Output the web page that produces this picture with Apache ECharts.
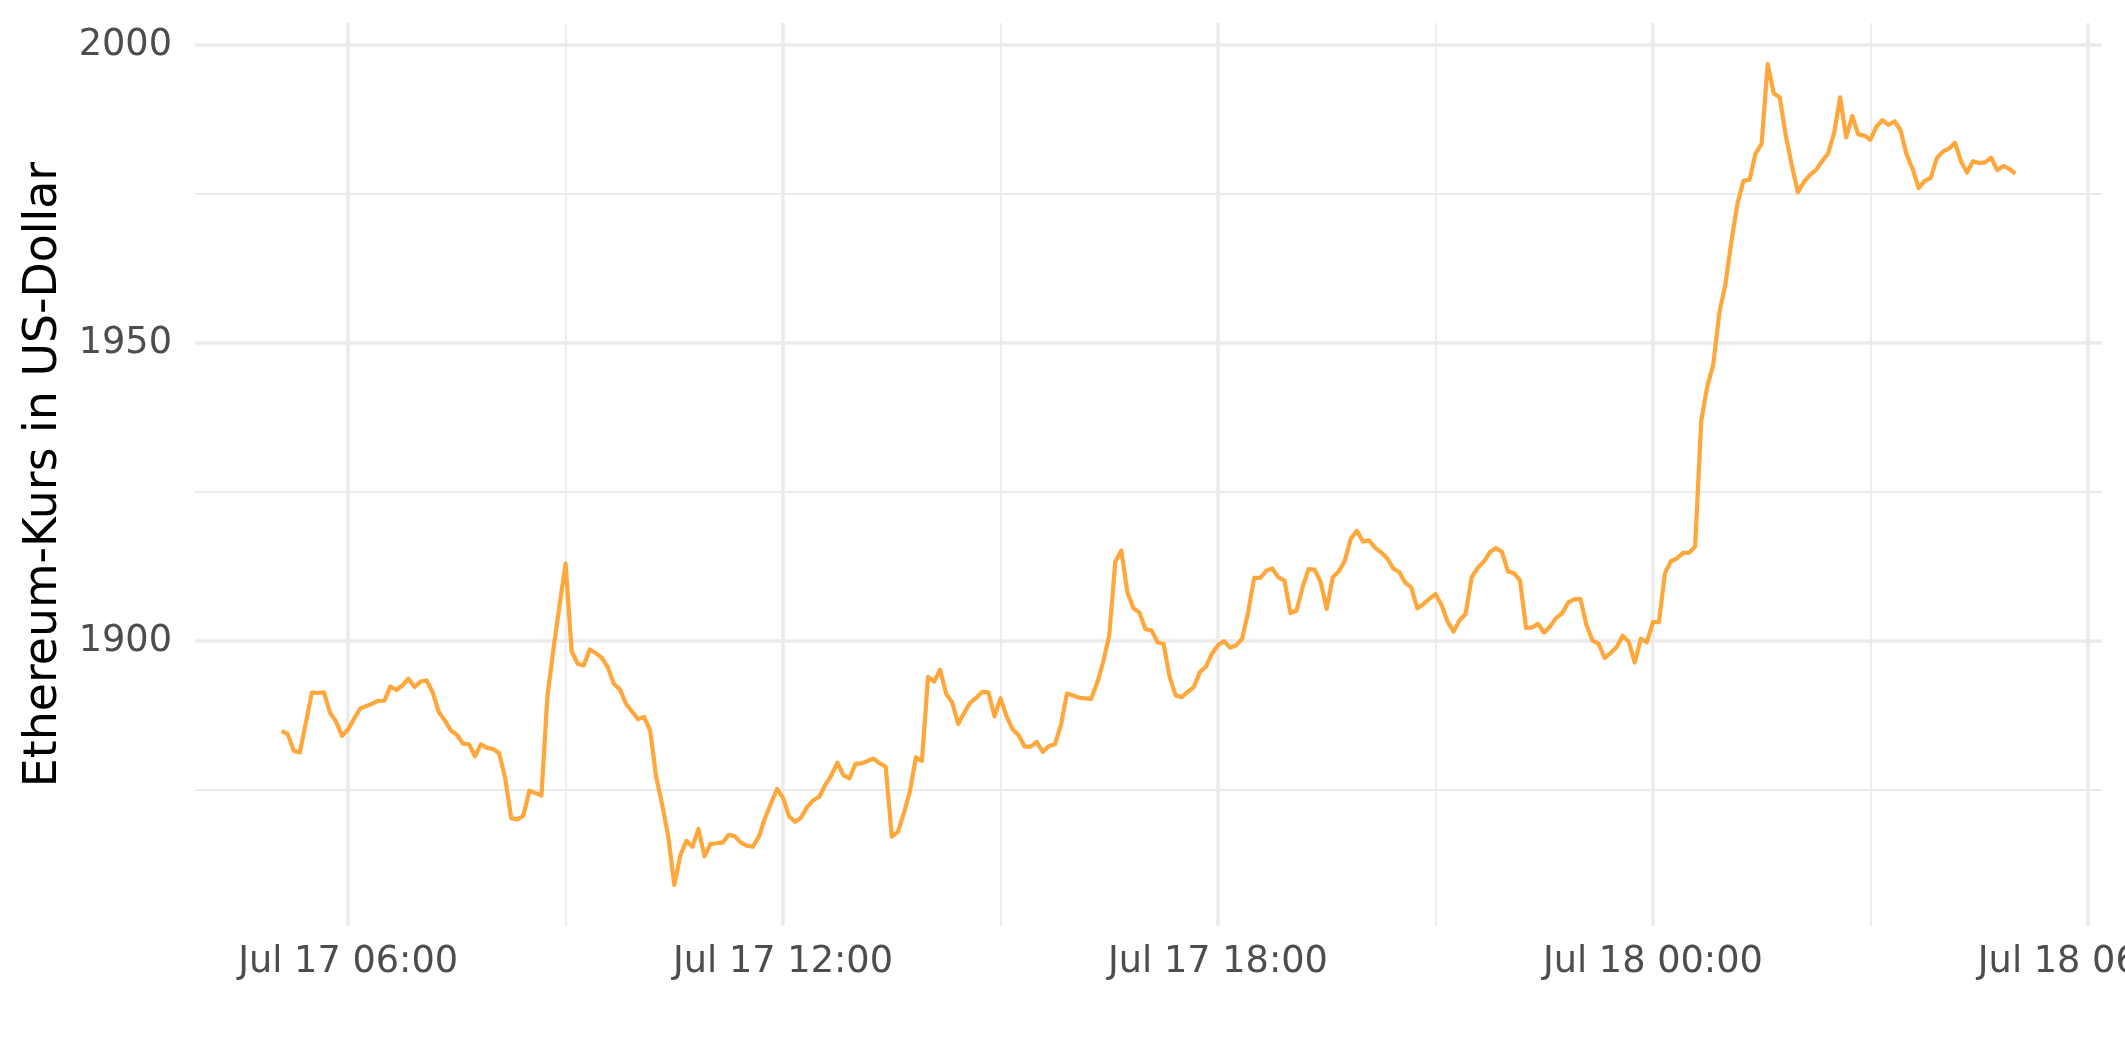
<!DOCTYPE html>
<html>
<head>
<meta charset="utf-8">
<script src="https://cdn.jsdelivr.net/npm/echarts@6/dist/echarts.min.js"></script>
<style>
html,body{margin:0;padding:0;background:#fff;}
#chart{width:2125px;height:1062px;}
</style>
</head>
<body>
<div id="chart"></div>
<script>
// Ethereum price (USD), 5-minute samples, Jul 17 05:05 -> Jul 18 05:00
const prices = [
1884.9,1884.4,1881.6,1881.3,1886.3,1891.4,1891.3,1891.4,1888.0,1886.5,1884.1,1885.2,
1887.0,1888.7,1889.1,1889.5,1890.0,1890.0,1892.4,1891.8,1892.6,1893.7,1892.3,1893.2,
1893.4,1891.4,1888.1,1886.7,1885.0,1884.3,1882.8,1882.7,1880.7,1882.7,1882.1,1881.9,
1881.2,1877.0,1870.3,1870.1,1870.7,1874.9,1874.5,1874.1,1890.9,1898.7,1906.0,1913.0,
1898.3,1896.2,1895.9,1898.6,1898.0,1897.2,1895.6,1892.8,1891.9,1889.5,1888.2,1886.9,
1887.3,1885.0,1877.2,1872.5,1867.2,1859.1,1864.1,1866.5,1865.5,1868.5,1863.9,1866.0,
1866.1,1866.2,1867.5,1867.3,1866.2,1865.7,1865.5,1867.2,1870.3,1872.8,1875.2,1873.7,
1870.6,1869.7,1870.4,1872.2,1873.3,1873.9,1875.9,1877.5,1879.6,1877.5,1877.0,1879.4,
1879.5,1879.9,1880.3,1879.5,1878.9,1867.2,1868.0,1871.1,1874.8,1880.5,1879.9,1894.0,
1893.2,1895.2,1891.2,1889.7,1886.1,1888.0,1889.7,1890.5,1891.5,1891.4,1887.4,1890.4,
1887.4,1885.2,1884.2,1882.3,1882.3,1883.1,1881.4,1882.4,1882.7,1885.9,1891.2,1890.9,
1890.5,1890.4,1890.3,1893.0,1896.5,1901.0,1913.3,1915.2,1908.2,1905.5,1904.8,1902.0,
1901.8,1899.8,1899.5,1894.0,1890.9,1890.6,1891.5,1892.3,1894.8,1895.7,1897.9,1899.3,
1900.0,1898.9,1899.3,1900.4,1904.9,1910.6,1910.6,1911.8,1912.2,1910.7,1910.2,1904.7,
1905.1,1909.0,1912.1,1912.0,1909.9,1905.4,1910.7,1911.7,1913.5,1917.2,1918.5,1916.7,
1916.9,1915.7,1914.9,1913.9,1912.2,1911.6,1909.8,1909.0,1905.5,1906.2,1907.1,1907.9,
1906.1,1903.3,1901.6,1903.5,1904.6,1910.7,1912.3,1913.3,1914.9,1915.6,1915.0,1911.7,
1911.4,1910.2,1902.2,1902.3,1902.9,1901.4,1902.5,1903.9,1904.7,1906.5,1907.0,1907.1,
1902.7,1900.1,1899.6,1897.2,1898.0,1899.0,1900.9,1899.9,1896.4,1900.4,1899.8,1903.2,
1903.2,1911.4,1913.4,1913.9,1914.8,1914.8,1915.9,1936.9,1942.7,1946.4,1955.1,1959.8,
1967.1,1973.4,1977.2,1977.4,1981.8,1983.4,1996.8,1991.9,1991.2,1984.8,1979.8,1975.3,
1977.0,1978.2,1979.0,1980.5,1981.8,1985.2,1991.2,1984.5,1988.1,1985.0,1984.8,1984.1,
1986.3,1987.4,1986.6,1987.2,1985.7,1981.6,1979.2,1976.0,1977.2,1977.7,1981.0,1982.1,
1982.6,1983.6,1980.5,1978.6,1980.5,1980.2,1980.3,1981.1,1979.0,1979.7,1979.2,1978.4
];
// time axis in hours since Jul 17 00:00
const startHour = 5 + 5 / 60;   // Jul 17 05:05
const stepHour = 5 / 60;        // 5 minutes
const times = prices.map((_, i) => startHour + i * stepHour);

const xTickValues = [6, 12, 18, 24, 30];
const xTickLabels = ['Jul 17 06:00', 'Jul 17 12:00', 'Jul 17 18:00', 'Jul 18 00:00', 'Jul 18 06:00'];
const xMinorValues = [9, 15, 21, 27];
const yTickValues = [1900, 1950, 2000];
const yMinorValues = [1875, 1925, 1975];
const yTitle = 'Ethereum-Kurs in US-Dollar';

// ggplot-like 5% expansion
const xSpan = times[times.length - 1] - times[0];
const xMin = times[0] - 0.05 * xSpan, xMax = times[times.length - 1] + 0.05 * xSpan;
const pMin = Math.min(...prices), pMax = Math.max(...prices);
const ySpan = pMax - pMin;
const yMin = pMin - 0.05 * ySpan, yMax = pMax + 0.05 * ySpan;

const grid = '#EBEBEB';
const font = 'DejaVu Sans';
const chart = echarts.init(document.getElementById('chart'), null, {renderer: 'canvas'});
const labelMap = {};
xTickValues.forEach((v, i) => labelMap[v] = xTickLabels[i]);

chart.setOption({
  animation: false,
  backgroundColor: '#ffffff',
  grid: {left: 195, right: 23, top: 23, bottom: 136, containLabel: false, outerBoundsMode: 'none'},
  xAxis: [{
    type: 'value', min: xMin, max: xMax,
    axisLine: {show: false},
    axisTick: {show: false, customValues: xTickValues},
    axisLabel: {
      show: true, customValues: xTickValues, margin: 18, hideOverlap: false,
      color: '#4D4D4D', fontFamily: font, fontSize: 36.7,
      formatter: v => labelMap[Math.round(v)] || ''
    },
    splitLine: {show: true, lineStyle: {color: grid, width: 3.6}}
  }, {
    type: 'value', min: xMin, max: xMax, position: 'bottom',
    axisLine: {show: false},
    axisTick: {show: false, customValues: xMinorValues},
    axisLabel: {show: false, customValues: xMinorValues},
    splitLine: {show: true, lineStyle: {color: grid, width: 1.8}}
  }],
  yAxis: [{
    type: 'value', min: yMin, max: yMax,
    axisLine: {show: false},
    axisTick: {show: false, customValues: yTickValues},
    axisLabel: {
      show: true, customValues: yTickValues, margin: 23,
      color: '#4D4D4D', fontFamily: font, fontSize: 36.7,
      formatter: v => String(Math.round(v))
    },
    splitLine: {show: true, lineStyle: {color: grid, width: 3.6}},
    name: yTitle, nameLocation: 'middle', nameGap: 128, nameRotate: 90,
    nameTextStyle: {color: '#000000', fontFamily: font, fontSize: 45.8}
  }, {
    type: 'value', min: yMin, max: yMax,
    axisLine: {show: false},
    axisTick: {show: false, customValues: yMinorValues},
    axisLabel: {show: false, customValues: yMinorValues},
    splitLine: {show: true, lineStyle: {color: grid, width: 1.8}}
  }],
  series: [{
    type: 'line',
    xAxisIndex: 0, yAxisIndex: 0,
    data: times.map((t, i) => [t, prices[i]]),
    showSymbol: false,
    lineStyle: {color: '#FFA73A', width: 4.2, join: 'round'},
    itemStyle: {color: '#FFA73A'},
    z: 5
  }]
});
</script>
</body>
</html>
